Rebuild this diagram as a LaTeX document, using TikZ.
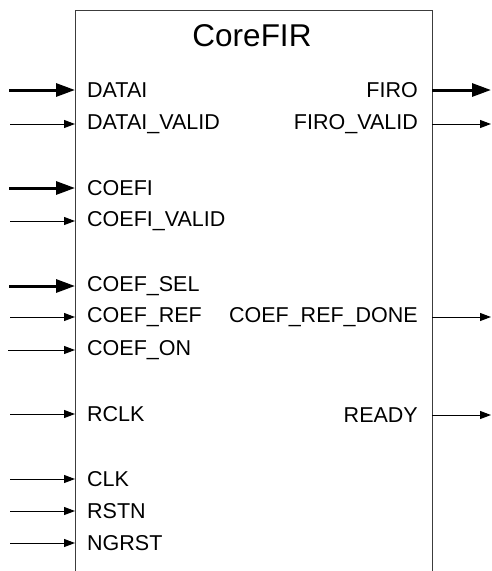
\documentclass[tikz,border=0pt]{standalone}
\usepackage{fontspec}
\setmainfont{Liberation Sans}
\usetikzlibrary{arrows.meta, positioning}
\definecolor{boxgray}{RGB}{60,60,60}

\begin{document}
\begin{tikzpicture}[
        x=1pt, y=-1pt,
        inport/.style={anchor=west, inner xsep=12pt, inner ysep=0pt, font=\fontsize{21.5}{24}\selectfont},
        outport/.style={anchor=east, inner xsep=14pt, inner ysep=0pt, font=\fontsize{21.5}{24}\selectfont},
        bus/.style={-{Triangle[length=19pt, width=13pt]}, line width=3pt},
        wire/.style={-{Triangle[length=11pt, width=8pt]}, line width=1pt}
    ]
        \useasboundingbox (0,0) rectangle (491,571);

        % Block outline
        \draw[boxgray, line width=1pt] (75,571) -- (75,10) -- (432,10) -- (432,571);
        \node[font=\fontsize{31.5}{36}\selectfont] (title) at (252,36) {CoreFIR};

        % Inputs
        \node[inport] (datai) at (75,90) {DATAI};
        \node[inport] (dataivalid) at (75,124) {DATAI\_VALID};
        \node[inport] (coefi) at (75,188) {COEFI};
        \node[inport] (coefivalid) at (75,221) {COEFI\_VALID};
        \node[inport] (coefsel) at (75,286) {COEF\_SEL};
        \node[inport] (coefref) at (75,317) {COEF\_REF};
        \node[inport] (coefon) at (75,350) {COEF\_ON};
        \node[inport] (rclk) at (75,414) {RCLK};
        \node[inport] (clk) at (75,479) {CLK};
        \node[inport] (rstn) at (75,511) {RSTN};
        \node[inport] (ngrst) at (75,543) {NGRST};

        \coordinate (datai-in) at (9,90);
        \coordinate (dataivalid-in) at (10,124);
        \coordinate (coefi-in) at (9,188);
        \coordinate (coefivalid-in) at (10,221);
        \coordinate (coefsel-in) at (9,286);
        \coordinate (coefref-in) at (10,317);
        \coordinate (coefon-in) at (8,350);
        \coordinate (rclk-in) at (10,414);
        \coordinate (clk-in) at (10,479);
        \coordinate (rstn-in) at (10,511);
        \coordinate (ngrst-in) at (10,543);

        \draw[bus] (datai-in) -- (datai.west);
        \draw[wire] (dataivalid-in) -- (dataivalid.west);
        \draw[bus] (coefi-in) -- (coefi.west);
        \draw[wire] (coefivalid-in) -- (coefivalid.west);
        \draw[bus] (coefsel-in) -- (coefsel.west);
        \draw[wire] (coefref-in) -- (coefref.west);
        \draw[wire] (coefon-in) -- (coefon.west);
        \draw[wire] (rclk-in) -- (rclk.west);
        \draw[wire] (clk-in) -- (clk.west);
        \draw[wire] (rstn-in) -- (rstn.west);
        \draw[wire] (ngrst-in) -- (ngrst.west);

        % Outputs
        \node[outport] (firo) at (432,90) {FIRO};
        \node[outport] (firovalid) at (432,124) {FIRO\_VALID};
        \node[outport] (coefrefdone) at (432,317) {COEF\_REF\_DONE};
        \node[outport] (ready) at (432,415) {READY};

        \coordinate (firo-out) at (491,90);
        \coordinate (firovalid-out) at (491,124);
        \coordinate (coefrefdone-out) at (491,317);
        \coordinate (ready-out) at (491,415);

        \draw[bus] (firo.east) -- (firo-out);
        \draw[wire] (firovalid.east) -- (firovalid-out);
        \draw[wire] (coefrefdone.east) -- (coefrefdone-out);
        \draw[wire] (ready.east) -- (ready-out);
\end{tikzpicture}
\end{document}
